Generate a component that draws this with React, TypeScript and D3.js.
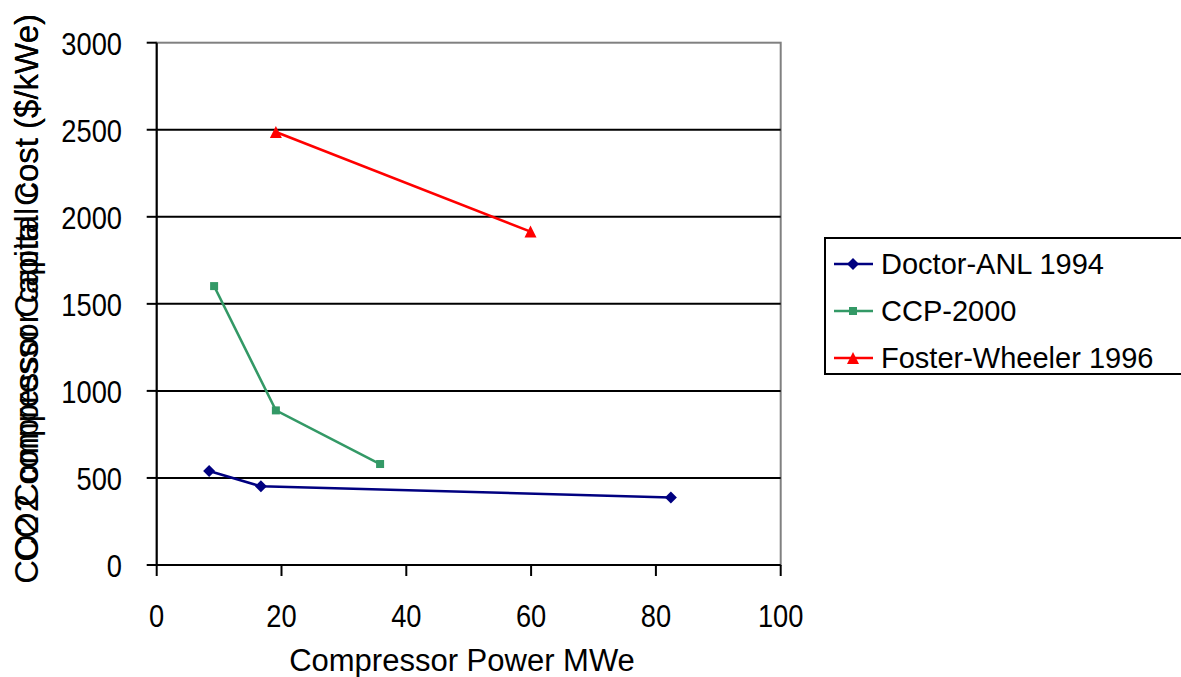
import React from "react";
import * as d3 from "d3";

const doctorX = [8.4, 16.7, 82.4];
const doctorY = [540, 452, 388];
const ccpX = [9.2, 19.1, 35.8];
const ccpY = [1602, 888, 580];
const fwX = [19.1, 59.9];
const fwY = [2487, 1915];
const xTicks = [0, 20, 40, 60, 80, 100];
const yTicks = [0, 500, 1000, 1500, 2000, 2500, 3000];
const seriesNames = ["Doctor-ANL 1994", "CCP-2000", "Foster-Wheeler 1996"];
const seriesColors = ["#000080", "#339966", "#FF0000"];

const FONT = "Arial, 'Liberation Sans', sans-serif";

export default function App() {
  const W = 1181, H = 677;
  const x = d3.scaleLinear().domain([0, 100]).range([156.7, 780.7]);
  const y = d3.scaleLinear().domain([0, 3000]).range([565, 42.7]);
  const line = d3.line<[number, number]>().x(d => x(d[0])).y(d => y(d[1]));
  const series = [
    { pts: doctorX.map((v, i) => [v, doctorY[i]] as [number, number]) },
    { pts: ccpX.map((v, i) => [v, ccpY[i]] as [number, number]) },
    { pts: fwX.map((v, i) => [v, fwY[i]] as [number, number]) },
  ];
  const marker = (k: number, cx: number, cy: number, key: string) => {
    const c = seriesColors[k];
    if (k === 0) {
      const s = 6;
      return <path key={key} d={`M${cx},${cy - s}L${cx + s},${cy}L${cx},${cy + s}L${cx - s},${cy}Z`} fill={c} />;
    }
    if (k === 1) {
      return <rect key={key} x={cx - 4} y={cy - 4} width={8} height={8} fill={c} />;
    }
    const s = 6;
    return <path key={key} d={`M${cx},${cy - s}L${cx + s},${cy + s}L${cx - s},${cy + s}Z`} fill={c} />;
  };
  const tickText = (tx: number, ty: number, anchor: string, s: string | number, key: string) => (
    <text key={key} transform={`translate(${tx},${ty}) scale(0.88,1)`} textAnchor={anchor} fontFamily={FONT} fontSize={31} fill="#000">{s}</text>
  );
  return (
    <svg width={W} height={H} style={{ position: "absolute", left: 0, top: 0, background: "#fff" }}>
      <rect x={0} y={0} width={W} height={H} fill="#fff" />
      {/* plot border */}
      <rect x={x(0)} y={y(3000)} width={x(100) - x(0)} height={y(0) - y(3000)} fill="none" stroke="#808080" strokeWidth={2} />
      {/* gridlines */}
      {yTicks.filter(t => t > 0 && t < 3000).map(t => (
        <line key={t} x1={x(0)} x2={x(100)} y1={y(t)} y2={y(t)} stroke="#000" strokeWidth={2} />
      ))}
      {/* axes */}
      <line x1={x(0)} x2={x(0)} y1={y(3000)} y2={y(0)} stroke="#000" strokeWidth={2} />
      <line x1={x(0)} x2={x(100)} y1={y(0)} y2={y(0)} stroke="#000" strokeWidth={2} />
      {yTicks.map(t => (
        <g key={t}>
          <line x1={x(0) - 10} x2={x(0)} y1={y(t)} y2={y(t)} stroke="#000" strokeWidth={2} />
          {tickText(122, y(t) + 12, "end", t, `yt${t}`)}
        </g>
      ))}
      {xTicks.map(t => (
        <g key={t}>
          <line x1={x(t)} x2={x(t)} y1={y(0)} y2={y(0) + 11} stroke="#000" strokeWidth={2} />
          {tickText(x(t), 627, "middle", t, `xt${t}`)}
        </g>
      ))}
      <text x={462} y={671} textAnchor="middle" fontFamily={FONT} fontSize={31} fill="#000">Compressor Power MWe</text>
      <text transform="translate(38,14) rotate(-90)" textAnchor="end" fontFamily={FONT} fontSize={33} fill="#000">CO2 Compressor Capital Cost ($/kWe)</text>
      <text transform="translate(38,14) rotate(-90)" textAnchor="end" fontFamily={FONT} fontSize={33} fill="#000">CO2 compressor capital cost ($/kWe)</text>
      {/* series */}
      {series.map((s, k) => (
        <g key={k}>
          <path d={line(s.pts) || ""} fill="none" stroke={seriesColors[k]} strokeWidth={2.5} />
          {s.pts.map((p, i) => marker(k, x(p[0]), y(p[1]), `${k}-${i}`))}
        </g>
      ))}
      {/* legend */}
      <rect x={825} y={238} width={370} height={136} fill="#fff" stroke="#000" strokeWidth={2} />
      {seriesNames.map((n, k) => {
        const cy = 264 + k * 47;
        return (
          <g key={n}>
            <line x1={834} x2={873} y1={cy} y2={cy} stroke={seriesColors[k]} strokeWidth={2.5} />
            {marker(k, 853, cy, `l${k}`)}
            <text x={881} y={cy + 10} fontFamily={FONT} fontSize={29} fill="#000">{n}</text>
          </g>
        );
      })}
    </svg>
  );
}
